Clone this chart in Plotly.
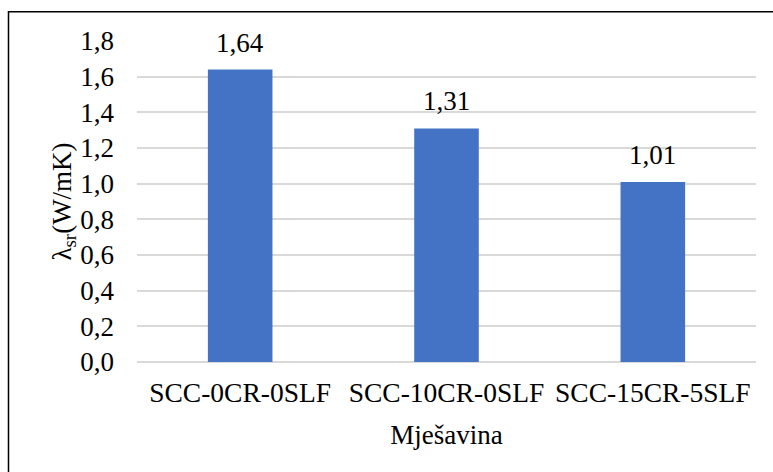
import plotly.graph_objects as go

categories = ["SCC-0CR-0SLF", "SCC-10CR-0SLF", "SCC-15CR-5SLF"]
values = [1.64, 1.31, 1.01]
value_labels = ["1,64", "1,31", "1,01"]
y_ticks = [0.0, 0.2, 0.4, 0.6, 0.8, 1.0, 1.2, 1.4, 1.6, 1.8]

FONT = "'Times New Roman', 'Liberation Serif', serif"

fig = go.Figure(
    go.Bar(
        x=categories,
        y=values,
        marker=dict(color="#4472C4", line=dict(width=0)),
        hoverinfo="skip",
    )
)

annotations = [
    dict(
        x=c, y=v, xref="x", yref="y", text=t, showarrow=False,
        yanchor="bottom", yshift=10,
        font=dict(family=FONT, size=27, color="#000000"),
    )
    for c, v, t in zip(categories, values, value_labels)
]

fig.update_layout(
    width=773,
    height=472,
    margin=dict(l=137, r=17, t=41, b=110, autoexpand=False),
    paper_bgcolor="white",
    plot_bgcolor="white",
    separators=",.",
    bargap=0.687,
    showlegend=False,
    font=dict(family=FONT, size=27, color="#000000"),
    annotations=annotations,
    xaxis=dict(
        showgrid=False,
        showline=False,
        zeroline=False,
        ticks="",
        ticklabelstandoff=11,
        tickfont=dict(family=FONT, size=27.5),
        title=dict(text="Mješavina", standoff=18, font=dict(family=FONT, size=27)),
    ),
    yaxis=dict(
        range=[0, 1.8],
        tickvals=y_ticks,
        tickformat=".1f",
        showgrid=True,
        gridcolor="#d9d9d9",
        gridwidth=2,
        zeroline=True,
        zerolinecolor="#d9d9d9",
        zerolinewidth=2,
        showline=False,
        ticks="",
        ticklabelstandoff=22,
        tickfont=dict(family=FONT, size=27),
        title=dict(text="λ<sub>sr</sub>(W/mK)", standoff=0, font=dict(family=FONT, size=27)),
    ),
    shapes=[
        dict(
            type="rect",
            xref="paper",
            yref="paper",
            x0=-0.2076,
            x1=1.1,
            y0=-0.6,
            y1=1.091,
            line=dict(color="#000000", width=1.5),
            fillcolor="rgba(0,0,0,0)",
            layer="above",
        )
    ],
)

fig.write_html(
    "out.html",
    config={"displayModeBar": False},
    post_script="document.body.style.margin='0';document.body.style.padding='0';",
)
